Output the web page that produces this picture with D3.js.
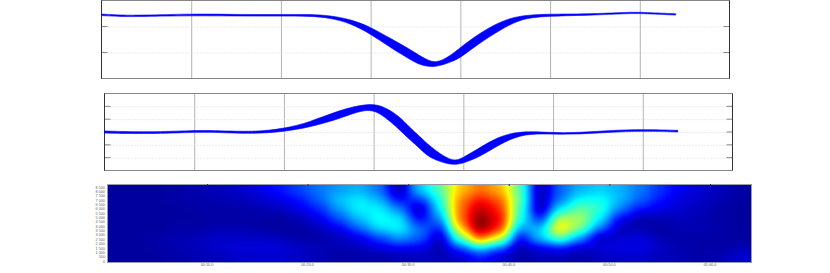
<!DOCTYPE html>
<html>
<head>
<meta charset="utf-8">
<style>
  html, body { margin: 0; padding: 0; background: #fff; }
  svg { display: block; }
  .grid-x line { stroke: #b4b4b4; stroke-width: 1; }
  .grid-y line { stroke: #d8d8d8; stroke-width: 1; stroke-dasharray: 1 2; }
  .tiny text { font-family: "Liberation Sans", sans-serif; font-size: 3.8px; fill: #666; }
</style>
<script src="https://cdn.jsdelivr.net/npm/d3@7"></script>
</head>
<body>
<script>
// top trace
var topX     = [0, 0.21, 0.43, 1, 1.55, 2.01, 2.33, 2.55, 2.78, 3, 3.22, 3.44, 3.56, 3.72, 3.89, 4, 4.19, 4.45, 4.67, 4.93, 5.45, 5.86, 6.01, 6.4];
var topUpper = [2.48, 2.44, 2.43, 2.49, 2.46, 2.46, 2.47, 2.42, 2.27, 1.98, 1.54, 1.12, 0.85, 0.54, 0.88, 1.19, 1.69, 2.21, 2.42, 2.48, 2.48, 2.55, 2.55, 2.49];
var topLower = [2.42, 2.38, 2.38, 2.42, 2.40, 2.40, 2.40, 2.33, 2.12, 1.71, 1.19, 0.73, 0.50, 0.42, 0.63, 0.79, 1.31, 1.88, 2.29, 2.40, 2.43, 2.50, 2.50, 2.44];

// middle trace
var midX     = [0, 0.5, 1, 1.23, 1.67, 2.01, 2.29, 2.62, 2.95, 3.12, 3.29, 3.4, 3.51, 3.62, 3.87, 3.99, 4.18, 4.4, 4.63, 4.88, 5.18, 5.63, 6, 6.39];
var midUpper = [0.08, -0.02, 0.13, 0.12, 0, 0.27, 0.77, 1.72, 2.26, 1.98, 1.21, 0.36, -0.31, -1.08, -2.36, -2.05, -1.23, -0.33, 0.05, 0, -0.1, 0.13, 0.21, 0.13];
var midLower = [-0.08, -0.15, -0.02, -0.02, -0.15, 0.04, 0.38, 1.02, 1.95, 1.21, 0.18, -0.59, -1.23, -2.05, -2.6, -2.46, -1.95, -0.98, -0.21, -0.13, -0.21, -0.02, 0.08, 0];

// spectrogram cells, one row per frequency band (top row first), in percent
var heatRows = [
  [3, 3, 3, 4, 5, 6, 7, 10, 14, 19, 24, 28, 30, 24, 4, 32, 46, 68, 76, 70, 46, 4, 22, 30, 33, 30, 24, 17, 11, 8, 6, 4],
  [3, 3, 3, 4, 4, 5, 6, 7, 10, 14, 22, 32, 36, 30, 12, 18, 40, 74, 86, 78, 48, 4, 24, 38, 39, 31, 22, 14, 9, 7, 5, 3],
  [3, 3, 3, 3, 4, 4, 4, 5, 6, 10, 16, 28, 37, 37, 26, 5, 36, 76, 94, 84, 44, 4, 36, 48, 42, 25, 14, 10, 8, 6, 4, 3],
  [3, 3, 3, 3, 3, 4, 4, 4, 3, 5, 10, 20, 31, 39, 36, 12, 26, 76, 100, 88, 40, 16, 56, 54, 36, 12, 4, 5, 6, 5, 4, 3],
  [3, 3, 3, 4, 4, 5, 5, 4, 3, 3, 6, 11, 22, 34, 38, 24, 14, 66, 100, 84, 28, 32, 66, 50, 24, 5, 5, 3, 5, 5, 4, 3],
  [3, 3, 4, 5, 6, 7, 7, 7, 6, 4, 4, 6, 10, 19, 28, 22, 6, 46, 78, 60, 12, 32, 48, 28, 6, 8, 9, 5, 4, 4, 4, 3],
  [3, 3, 4, 5, 6, 8, 9, 9, 9, 7, 6, 5, 6, 9, 12, 11, 4, 20, 36, 24, 4, 11, 15, 8, 9, 10, 10, 7, 5, 4, 4, 5],
  [3, 3, 3, 4, 5, 6, 7, 8, 8, 7, 5, 4, 4, 4, 5, 6, 5, 7, 14, 8, 4, 5, 5, 4, 6, 7, 7, 6, 5, 4, 5, 8]
];
var heatYLabels = ['0', '500', '1 000', '1 500', '2 000', '2 500', '3 000', '3 500', '4 000', '4 500', '5 000', '5 500', '6 000', '6 500', '7 000', '7 500', '8 000', '8 500'];
var heatXLabels = ['00:10.0', '00:20.0', '00:30.0', '00:40.0', '00:50.0', '01:00.0'];

// jet colour table, sampled every 1/8 of the value range
var jetRed   = [0, 0, 0, 0, 0.5, 1, 1, 1, 0.5];
var jetGreen = [0, 0, 0.5, 1, 1, 1, 0.5, 0, 0];
var jetBlue  = [0.5, 1, 1, 1, 0.5, 0, 0, 0, 0];

var svg = d3.select('body').append('svg')
    .attr('width', 830)
    .attr('height', 273);

var defs = svg.append('defs');

// one panel with a band trace (upper and lower edge of the overlaid runs)
function drawTrace(left, right, top, bottom, yDomain, yTicks, xs, upper, lower) {
    var x = d3.scaleLinear().domain([0, 7]).range([left, right]);
    var y = d3.scaleLinear().domain(yDomain).range([bottom, top]);
    var g = svg.append('g');

    g.append('g').attr('class', 'grid-x')
        .attr('transform', 'translate(0,' + bottom + ')')
        .call(d3.axisBottom(x).tickValues(d3.range(1, 7)).tickSize(top - bottom).tickFormat(''))
        .call(function (s) { s.select('.domain').remove(); });

    g.append('g').attr('class', 'grid-y')
        .attr('transform', 'translate(' + left + ',0)')
        .call(d3.axisRight(y).tickValues(yTicks).tickSize(right - left).tickFormat(''))
        .call(function (s) { s.select('.domain').remove(); });

    // small inward ticks, both sides
    yTicks.forEach(function (v) {
        g.append('line').attr('x1', left).attr('x2', left + 6).attr('y1', y(v)).attr('y2', y(v)).attr('stroke', '#888');
        g.append('line').attr('x1', right - 6).attr('x2', right).attr('y1', y(v)).attr('y2', y(v)).attr('stroke', '#888');
    });

    g.append('rect')
        .attr('x', left).attr('y', top)
        .attr('width', right - left).attr('height', bottom - top)
        .attr('fill', 'none').attr('stroke', '#858585');

    g.append('line').attr('x1', left).attr('x2', left).attr('y1', top).attr('y2', bottom).attr('stroke', '#333');
    g.append('line').attr('x1', right).attr('x2', right).attr('y1', top).attr('y2', bottom).attr('stroke', '#333');

    var band = d3.area()
        .x(function (d) { return x(d); })
        .y0(function (d, i) { return y(lower[i]); })
        .y1(function (d, i) { return y(upper[i]); })
        .curve(d3.curveBasis);

    g.append('path')
        .datum(xs)
        .attr('d', band)
        .attr('fill', '#0000ff')
        .attr('stroke', '#0000ff')
        .attr('stroke-width', 0.6)
        .attr('stroke-linejoin', 'round');
}

drawTrace(101.5, 729.5, 0.5, 78.5, [0, 3], [1, 2], topX, topUpper, topLower);
drawTrace(104.5, 732.5, 93.5, 170.5, [-3, 3], [-2, -1, 0, 1, 2], midX, midUpper, midLower);

// spectrogram
var hLeft = 108, hRight = 751, hTop = 185, hBottom = 262;
var colIdx = d3.range(heatRows[0].length);
var rowIdx = d3.range(heatRows.length);
var hx = d3.scaleBand().domain(colIdx).range([hLeft, hRight]);
var hy = d3.scaleBand().domain(rowIdx).range([hTop, hBottom]);
var grey = d3.scaleLinear().domain([0, 100]).range(['#000000', '#ffffff']);

defs.append('clipPath').attr('id', 'heat-clip')
    .append('rect')
    .attr('x', hLeft).attr('y', hTop)
    .attr('width', hRight - hLeft).attr('height', hBottom - hTop);

// cells are drawn as grey levels, smoothed, then coloured, so the gradient runs through the colormap
var filter = defs.append('filter').attr('id', 'heat-jet')
    .attr('filterUnits', 'userSpaceOnUse')
    .attr('x', hLeft - 60).attr('y', hTop - 60)
    .attr('width', hRight - hLeft + 120).attr('height', hBottom - hTop + 120)
    .attr('color-interpolation-filters', 'sRGB');
filter.append('feGaussianBlur').attr('stdDeviation', '7 4');
var transfer = filter.append('feComponentTransfer');
transfer.append('feFuncR').attr('type', 'table').attr('tableValues', jetRed.join(' '));
transfer.append('feFuncG').attr('type', 'table').attr('tableValues', jetGreen.join(' '));
transfer.append('feFuncB').attr('type', 'table').attr('tableValues', jetBlue.join(' '));

var lastCol = colIdx.length - 1, lastRow = rowIdx.length - 1;
var cells = [];
rowIdx.forEach(function (r) {
    colIdx.forEach(function (c) { cells.push({ r: r, c: c, v: heatRows[r][c] }); });
});

svg.append('g').attr('clip-path', 'url(#heat-clip)')
    .append('g').attr('filter', 'url(#heat-jet)')
    .selectAll('rect')
    .data(cells)
    .enter()
    .append('rect')
    // edge cells run past the frame so the blur does not fade at the border
    .attr('x', function (d) { return hx(d.c) - (d.c === 0 ? 40 : 0); })
    .attr('y', function (d) { return hy(d.r) - (d.r === 0 ? 40 : 0); })
    .attr('width', function (d) { return hx.bandwidth() + (d.c === 0 || d.c === lastCol ? 40 : 0) + 0.5; })
    .attr('height', function (d) { return hy.bandwidth() + (d.r === 0 || d.r === lastRow ? 40 : 0) + 0.5; })
    .attr('shape-rendering', 'crispEdges')
    .attr('fill', function (d) { return grey(d.v); });

svg.append('rect')
    .attr('x', hLeft - 0.5).attr('y', hTop - 0.5)
    .attr('width', hRight - hLeft + 1).attr('height', hBottom - hTop + 1)
    .attr('fill', 'none').attr('stroke', '#9a9aa8');

// tiny tick labels
var ly = d3.scalePoint().domain(d3.range(heatYLabels.length)).range([261.3, 187.3]);
var lx = d3.scalePoint().domain(d3.range(heatXLabels.length)).range([207, 710]);

var labels = svg.append('g').attr('class', 'tiny');
labels.selectAll('.ylab')
    .data(heatYLabels)
    .enter()
    .append('text')
    .attr('class', 'ylab')
    .attr('x', 105)
    .attr('y', function (d, i) { return ly(i) + 1.3; })
    .attr('text-anchor', 'end')
    .text(function (d) { return d; });
labels.selectAll('.xlab')
    .data(heatXLabels)
    .enter()
    .append('text')
    .attr('class', 'xlab')
    .attr('x', function (d, i) { return lx(i); })
    .attr('y', 266)
    .attr('text-anchor', 'middle')
    .text(function (d) { return d; });
labels.selectAll('.xtick')
    .data(heatXLabels)
    .enter()
    .append('line')
    .attr('class', 'xtick')
    .attr('x1', function (d, i) { return lx(i) + 0.5; })
    .attr('x2', function (d, i) { return lx(i) + 0.5; })
    .attr('y1', 184)
    .attr('y2', 186)
    .attr('stroke', '#333');
</script>
</body>
</html>
